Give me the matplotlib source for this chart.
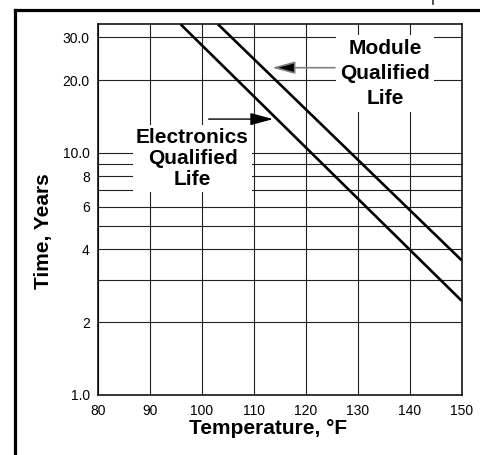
import matplotlib
matplotlib.use("Agg")
import matplotlib.pyplot as plt
from matplotlib.lines import Line2D

plt.rcParams['font.family'] = ['Liberation Sans', 'DejaVu Sans']

# ---- data ----
electronics_temp = [95.9, 150]
electronics_years = [34.0, 2.45]
module_temp = [103.1, 150]
module_years = [34.0, 3.6]

x_ticks = [80, 90, 100, 110, 120, 130, 140, 150]
y_ticks = [1, 2, 4, 6, 8, 10, 20, 30]
y_tick_labels = ["1.0", "2", "4", "6", "8", "10.0", "20.0", "30.0"]
y_minor = [3, 5, 7, 9]

W, H = 481, 455
fig = plt.figure(figsize=(W / 100, H / 100), dpi=100)
ax = fig.add_axes([98 / W, 1 - 395 / H, (461.7 - 98) / W, (395 - 24.3) / H])

ax.set_yscale('log')
ax.set_xlim(80, 150)
ax.set_ylim(1.0, 34.0)

ax.set_xticks(x_ticks)
ax.set_xticklabels([str(t) for t in x_ticks])
ax.set_yticks(y_ticks)
ax.set_yticklabels(y_tick_labels)
ax.set_yticks(y_minor, minor=True)
ax.yaxis.set_minor_formatter(plt.NullFormatter())
ax.tick_params(which='both', length=0)
ax.tick_params(axis='y', pad=6.0, labelsize=10)
ax.tick_params(axis='x', pad=6.5, labelsize=10)

ax.grid(True, which='both', color='#222222', linewidth=0.8, zorder=1)
ax.set_axisbelow(True)
for s in ax.spines.values():
    s.set_linewidth(1.1)
    s.set_color('black')
    s.set_zorder(5)

ax.plot(electronics_temp, electronics_years, color='black', lw=1.9, zorder=4,
        solid_capstyle='butt')
ax.plot(module_temp, module_years, color='black', lw=1.9, zorder=4,
        solid_capstyle='butt')

ax.text(98.2, 9.47, "Electronics\nQualified\nLife", ha='center', va='center',
        fontsize=15, fontweight='bold', linespacing=1.15, zorder=3,
        bbox=dict(facecolor='white', edgecolor='none', pad=2))
ax.text(135.3, 21.3, "Module\nQualified\nLife", ha='center', va='center',
        fontsize=15, fontweight='bold', linespacing=1.38, zorder=3,
        bbox=dict(facecolor='white', edgecolor='none', pad=3))

ax.annotate("", xy=(113.5, 22.5), xytext=(125.6, 22.5),
            arrowprops=dict(arrowstyle='-|>,head_length=1.4,head_width=0.38',
                            mutation_scale=10, ec='#808080', fc='black', lw=1.2,
                            shrinkA=0, shrinkB=0), zorder=4)
ax.annotate("", xy=(113.7, 13.8), xytext=(101.3, 13.8),
            arrowprops=dict(arrowstyle='-|>,head_length=1.4,head_width=0.38',
                            mutation_scale=10, ec='black', fc='black', lw=1.0,
                            shrinkA=0, shrinkB=0), zorder=4)

fig.text(268 / W, 1 - 428 / H, "Temperature, °F", ha='center', va='center',
         fontsize=15, fontweight='bold')
fig.text(43.3 / W, 1 - 230.8 / H, "Time, Years", ha='center', va='center',
         fontsize=15, fontweight='bold', rotation=90)

# page frame
fig.add_artist(Line2D([15 / W, 15 / W], [0, 1 - 9.5 / H], color='black', lw=2.3,
                      transform=fig.transFigure, solid_capstyle='projecting'))
fig.add_artist(Line2D([15 / W, 1], [1 - 9.5 / H, 1 - 9.5 / H], color='black', lw=2.3,
                      transform=fig.transFigure, solid_capstyle='projecting'))
fig.add_artist(Line2D([433 / W, 433 / W], [1, 1 - 4 / H], color='#333333', lw=1.2,
                      transform=fig.transFigure))

fig.savefig("out.png", dpi=100)
